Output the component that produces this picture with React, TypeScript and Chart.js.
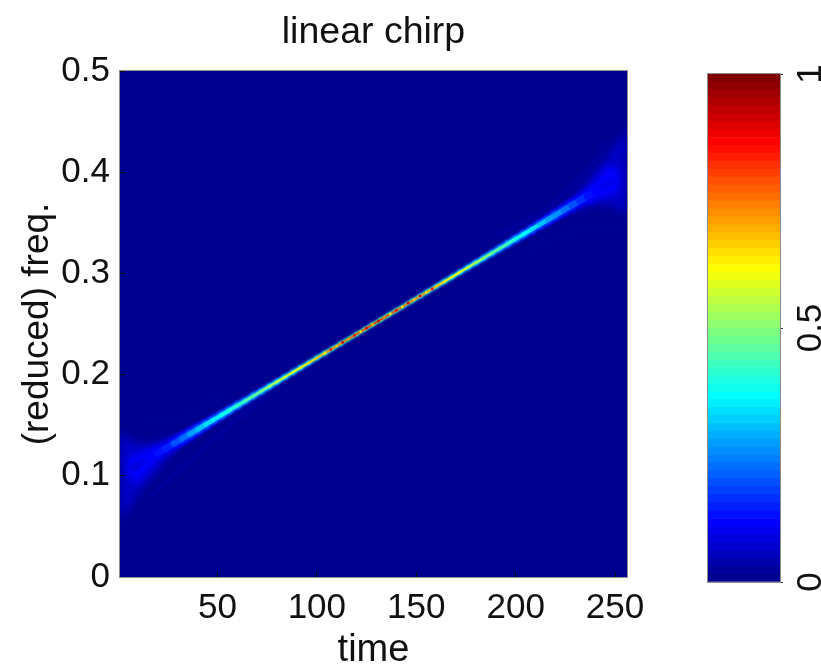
import React, { useEffect, useRef } from "react";
import { Chart, registerables } from "chart.js";

Chart.register(...registerables);

const FONT = "'Liberation Sans', Arial, sans-serif";

const titleText = "linear chirp";
const xTitleText = "time";
const yTitleText = "(reduced) freq.";
const xTicks = [50, 100, 150, 200, 250];
const yTicks = [0, 0.1, 0.2, 0.3, 0.4, 0.5];
const colorbarTicks = [0, 0.5, 1];

const jetColors = [
  "#00008f", "#00009f", "#0000af", "#0000bf", "#0000cf", "#0000df", "#0000ef", "#0000ff",
  "#000fff", "#001fff", "#002fff", "#003fff", "#004fff", "#005fff", "#006fff", "#007fff",
  "#008fff", "#009fff", "#00afff", "#00bfff", "#00cfff", "#00dfff", "#00efff", "#00ffff",
  "#0fffef", "#1fffdf", "#2fffcf", "#3fffbf", "#4fffaf", "#5fff9f", "#6fff8f", "#7fff7f",
  "#8fff6f", "#9fff5f", "#afff4f", "#bfff3f", "#cfff2f", "#dfff1f", "#efff0f", "#ffff00",
  "#ffef00", "#ffdf00", "#ffcf00", "#ffbf00", "#ffaf00", "#ff9f00", "#ff8f00", "#ff7f00",
  "#ff6f00", "#ff5f00", "#ff4f00", "#ff3f00", "#ff2f00", "#ff1f00", "#ff0f00", "#ff0000",
  "#ef0000", "#df0000", "#cf0000", "#bf0000", "#af0000", "#9f0000", "#8f0000", "#7f0000",
];

const ridgeTime = [
  8, 12, 16, 20, 24, 28, 32, 36, 40, 44, 48, 52, 56, 60, 64, 68, 72, 76, 80, 84, 88, 92, 96, 100, 104, 108, 112, 116,
  120, 124, 128, 132, 136, 140, 144, 148, 152, 156, 160, 164, 168, 172, 176, 180, 184, 188, 192, 196, 200, 204, 208,
  212, 216, 220, 224, 228, 232, 236, 240, 244, 248,
];
const ridgeFreq = [
  0.1082, 0.1129, 0.1176, 0.1224, 0.1271, 0.1318, 0.1365, 0.1412, 0.1459, 0.1506, 0.1553, 0.16, 0.1647, 0.1694, 0.1741,
  0.1788, 0.1835, 0.1882, 0.1929, 0.1976, 0.2024, 0.2071, 0.2118, 0.2165, 0.2212, 0.2259, 0.2306, 0.2353, 0.24, 0.2447,
  0.2494, 0.2541, 0.2588, 0.2635, 0.2682, 0.2729, 0.2776, 0.2824, 0.2871, 0.2918, 0.2965, 0.3012, 0.3059, 0.3106,
  0.3153, 0.32, 0.3247, 0.3294, 0.3341, 0.3388, 0.3435, 0.3482, 0.3529, 0.3576, 0.3624, 0.3671, 0.3718, 0.3765, 0.3812,
  0.3859, 0.3906,
];
const ridgeAmp = [
  0.09, 0.1, 0.11, 0.13, 0.15, 0.19, 0.23, 0.27, 0.3, 0.33, 0.35, 0.38, 0.4, 0.42, 0.44, 0.46, 0.49, 0.52, 0.55, 0.58,
  0.6, 0.63, 0.66, 0.7, 0.72, 0.74, 0.76, 0.78, 0.8, 0.82, 0.85, 0.82, 0.8, 0.78, 0.76, 0.74, 0.72, 0.7, 0.67, 0.64,
  0.61, 0.58, 0.55, 0.52, 0.49, 0.46, 0.44, 0.42, 0.39, 0.36, 0.33, 0.3, 0.27, 0.25, 0.22, 0.19, 0.16, 0.14, 0.12,
  0.1, 0.09,
];
const ridgeSpread = [
  0.009, 0.009, 0.009, 0.0085, 0.008, 0.0072, 0.0066, 0.006, 0.0055, 0.005, 0.0046, 0.0043, 0.004, 0.0037, 0.0034,
  0.0031, 0.0029, 0.0027, 0.0025, 0.0023, 0.0022, 0.0021, 0.002, 0.0019, 0.0018, 0.0017, 0.0016, 0.0016, 0.0015,
  0.0015, 0.0014, 0.0015, 0.0015, 0.0016, 0.0016, 0.0017, 0.0018, 0.0019, 0.002, 0.0021, 0.0022, 0.0023, 0.0025, 0.0027,
  0.0029, 0.0031, 0.0034, 0.0037, 0.004, 0.0043, 0.0046, 0.005, 0.0055, 0.006, 0.0066, 0.0072, 0.008, 0.0085, 0.009,
  0.009, 0.009,
];

const speckleTime = [104, 107, 110, 113, 116, 119, 122, 125, 128, 131, 134, 137, 140, 143, 146, 149, 152, 155, 158, 161];
const speckleFreq = [
  0.2212, 0.2247, 0.2282, 0.2318, 0.2353, 0.2388, 0.2424, 0.2459, 0.2494, 0.2529, 0.2565, 0.26, 0.2635, 0.2671, 0.2706,
  0.2741, 0.2776, 0.2812, 0.2847, 0.2882,
];
const speckleAmp = [
  0.64, 0.86, 0.66, 0.92, 0.7, 0.88, 0.62, 0.9, 0.68, 0.95, 0.72, 0.6, 0.88, 0.62, 0.9, 0.66, 0.93, 0.64, 0.86, 0.68,
];

const leftFlareOuter = [
  [1, 0.142], [8, 0.134], [16, 0.13], [26, 0.138], [31, 0.134], [21, 0.108], [13, 0.09], [6, 0.07], [1, 0.055],
];
const leftFlareInner = [
  [5, 0.118], [12, 0.124], [20, 0.131], [24, 0.124], [15, 0.104], [10, 0.093], [5, 0.098],
];
const rightFlareOuter = [
  [256, 0.358], [249, 0.366], [241, 0.37], [231, 0.362], [226, 0.366], [236, 0.392], [244, 0.41], [251, 0.43], [256, 0.445],
];
const rightFlareInner = [
  [252, 0.382], [245, 0.376], [237, 0.369], [233, 0.376], [242, 0.396], [247, 0.407], [252, 0.402],
];
const lobeA = [[16, 0.079], [30, 0.104], [46, 0.132], [61, 0.158], [76, 0.18]];
const lobeB = [[12, 0.158], [26, 0.154], [40, 0.162], [54, 0.184]];
const lobeC = [[190, 0.338], [205, 0.352], [219, 0.37], [239, 0.41], [245, 0.43]];
const lobeD = [[205, 0.322], [229, 0.341], [244, 0.346], [254, 0.342]];

const pairs = (a: number[][]) => a.map(([x, y]) => ({ x, y }));
const jet = (v: number) => jetColors[Math.max(0, Math.min(63, Math.floor(v * 64)))];

function ridgeLayer(widthFactor: number, ampFactor: number, blur: number, order: number) {
  return {
    data: ridgeTime.map((t, i) => ({ x: t, y: ridgeFreq[i] })),
    showLine: true,
    pointRadius: 0,
    borderCapStyle: "round",
    borderColor: jet(0.2),
    borderWidth: 2,
    blur,
    order,
    segment: {
      borderColor: (c: any) => jet(ridgeAmp[c.p0DataIndex] * ampFactor),
      borderWidth: (c: any) => {
        const s = c.chart.scales.y;
        return (s.getPixelForValue(0) - s.getPixelForValue(ridgeSpread[c.p0DataIndex])) * widthFactor;
      },
      borderCapStyle: () => "round",
    },
  };
}

function polygon(points: number[][], color: string, blur: number, order: number) {
  return {
    data: pairs(points),
    showLine: true,
    pointRadius: 0,
    borderWidth: 0,
    borderColor: color,
    backgroundColor: color,
    fill: "shape",
    blur,
    order,
  };
}

function lobe(points: number[][], color: string, blur: number, order: number) {
  return {
    data: pairs(points),
    showLine: true,
    tension: 0.4,
    pointRadius: 0,
    borderWidth: 3,
    borderColor: color,
    blur,
    order,
  };
}

const framePlugin = {
  id: "frame",
  afterDraw(chart: any) {
    const { ctx, chartArea: a } = chart;
    ctx.save();
    ctx.strokeStyle = "#8c8c8c";
    ctx.lineWidth = 1;
    ctx.strokeRect(a.left - 0.5, a.top - 0.5, a.right - a.left + 1, a.bottom - a.top + 1);
    ctx.restore();
  },
};

// The fill of a polygon is painted at the start of its dataset's turn, so each
// dataset's blur is switched on as soon as the previous dataset has finished.
const blurPlugin = {
  id: "datasetBlur",
  beforeDraw(chart: any) {
    const { ctx, chartArea: a } = chart;
    ctx.save();
    ctx.fillStyle = jetColors[0];
    ctx.fillRect(a.left, a.top, a.right - a.left, a.bottom - a.top);
    ctx.restore();
  },
  beforeDatasetsDraw(chart: any) {
    const metas = chart.getSortedVisibleDatasetMetas();
    const b = chart.data.datasets[metas[metas.length - 1].index].blur;
    chart.ctx.filter = b ? `blur(${b}px)` : "none";
  },
  afterDatasetDraw(chart: any, args: any) {
    const metas = chart.getSortedVisibleDatasetMetas();
    const pos = metas.findIndex((m: any) => m.index === args.index);
    const next = pos > 0 ? chart.data.datasets[metas[pos - 1].index].blur : 0;
    chart.ctx.filter = next ? `blur(${next}px)` : "none";
  },
  afterDatasetsDraw(chart: any) {
    chart.ctx.filter = "none";
  },
};

export default function App() {
  const mainRef = useRef<HTMLCanvasElement>(null);
  const barRef = useRef<HTMLCanvasElement>(null);

  useEffect(() => {
    const tickFont = { family: FONT, size: 35 };
    const ink = "#111";

    const main = new Chart(mainRef.current!, {
      type: "scatter",
      plugins: [blurPlugin, framePlugin],
      data: {
        datasets: [
          {
            data: speckleTime.map((t, i) => ({ x: t, y: speckleFreq[i] })),
            pointRadius: 1.3,
            pointBorderWidth: 0,
            pointBackgroundColor: speckleAmp.map(jet),
            blur: 0.5,
            order: 0,
          },
          ridgeLayer(0.85, 1, 0.6, 1),
          polygon(leftFlareInner, "#0000ff", 3.5, 2),
          polygon(rightFlareInner, "#0000ff", 3.5, 2),
          ridgeLayer(1.3, 0.7, 0.9, 3),
          polygon(leftFlareOuter, "#0000c8", 5, 4),
          polygon(rightFlareOuter, "#0000c8", 5, 4),
          ridgeLayer(1.9, 0.42, 1.4, 5),
          lobe(lobeA, "#0000a8", 2, 6),
          lobe(lobeB, "#00009c", 3, 6),
          lobe(lobeC, "#0000a8", 2, 6),
          lobe(lobeD, "#00009c", 3, 6),
        ] as any,
      },
      options: {
        animation: false,
        responsive: false,
        layout: { padding: { right: 120 } },
        plugins: {
          legend: { display: false },
          tooltip: { enabled: false },
          title: {
            display: true,
            fullSize: false,
            text: titleText,
            color: ink,
            font: { family: FONT, size: 37.5, weight: "normal", lineHeight: 1.2 },
            padding: { top: 10.5, bottom: 15.5 },
          },
        },
        scales: {
          x: {
            type: "linear",
            min: 1,
            max: 256,
            afterBuildTicks: (s: any) => {
              s.ticks = xTicks.map((value) => ({ value }));
            },
            afterFit: (s: any) => {
              s.height = 87;
            },
            grid: { drawOnChartArea: false, tickLength: -5, tickColor: "#111", z: 1 },
            border: { display: false },
            ticks: { font: tickFont, color: ink, padding: 15, maxRotation: 0, autoSkip: false },
            title: {
              display: true,
              text: xTitleText,
              color: ink,
              font: { family: FONT, size: 38, weight: "normal", lineHeight: 1 },
              padding: { top: 0, bottom: -6 },
            },
          },
          y: {
            min: 0,
            max: 0.5,
            afterBuildTicks: (s: any) => {
              s.ticks = yTicks.map((value) => ({ value }));
            },
            afterFit: (s: any) => {
              s.width = 120;
            },
            grid: { drawOnChartArea: false, tickLength: -5, tickColor: "#111", z: 1 },
            border: { display: false },
            ticks: { font: tickFont, color: ink, padding: 15, autoSkip: false },
            title: {
              display: true,
              text: yTitleText,
              color: ink,
              font: { family: FONT, size: 37, weight: "normal", lineHeight: 1 },
              padding: { top: 19, bottom: 0 },
            },
          },
        },
      } as any,
    });

    const bar = new Chart(barRef.current!, {
      type: "bar",
      plugins: [framePlugin],
      data: {
        labels: ["level"],
        datasets: jetColors.map((c) => ({
          data: [1 / jetColors.length],
          backgroundColor: c,
          barPercentage: 1,
          categoryPercentage: 1,
          stack: "colorbar",
        })),
      },
      options: {
        animation: false,
        responsive: false,
        layout: { padding: { left: 48, top: 74, bottom: 82 } },
        plugins: { legend: { display: false }, tooltip: { enabled: false } },
        scales: {
          x: { display: false, stacked: true },
          y: {
            position: "right",
            stacked: true,
            min: 0,
            max: 1,
            afterBuildTicks: (s: any) => {
              s.ticks = colorbarTicks.map((value) => ({ value }));
            },
            afterFit: (s: any) => {
              s.width = 41;
            },
            grid: { drawOnChartArea: false, tickLength: 3, tickColor: "#333" },
            border: { display: false },
            ticks: {
              font: tickFont,
              color: ink,
              padding: 4,
              minRotation: 90,
              maxRotation: 90,
              crossAlign: "center",
              autoSkip: false,
              callback: (v: any) => String(v),
            },
          },
        },
      } as any,
    });

    return () => {
      main.destroy();
      bar.destroy();
    };
  }, []);

  const soft = "blur(0.5px)";
  return (
    <div style={{ position: "fixed", left: 0, top: 0, width: 821, height: 664, overflow: "hidden", background: "#fff" }}>
      <canvas ref={mainRef} width={747} height={664} style={{ position: "absolute", left: 0, top: 0, filter: soft }} />
      <canvas ref={barRef} width={161} height={664} style={{ position: "absolute", left: 660, top: 0, filter: soft }} />
    </div>
  );
}
